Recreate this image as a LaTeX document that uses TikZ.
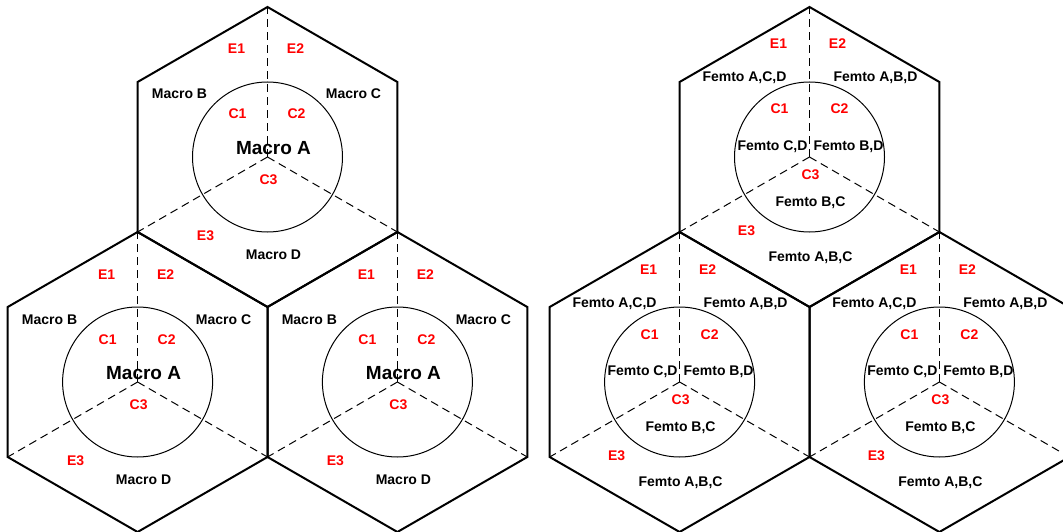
\documentclass[tikz,border=0pt]{standalone}
\usepackage{fontspec}
\setmainfont{Liberation Sans}
\tikzset{
  hexline/.style={line width=2pt, line join=miter},
  cellcircle/.style={line width=1pt},
  sectorline/.style={line width=1pt, dash pattern=on 8pt off 5pt},
  lbl/.style={font=\fontsize{14}{14}\selectfont\bfseries, inner sep=0pt, text height=10pt, text depth=0pt},
  redlbl/.style={lbl, text=red},
  blacklbl/.style={lbl, text=black},
  biglbl/.style={font=\fontsize{19}{19}\selectfont\bfseries, inner sep=0pt, text height=13.6pt, text depth=0pt},
  cellbase/.pic={
    \draw[hexline] (0,-150) -- (129.9,-75) -- (129.9,75) -- (0,150) -- (-129.9,75) -- (-129.9,-75) -- cycle;
    \draw[cellcircle] (0,0) circle[radius=75pt];
    \draw[sectorline] (0,0) -- (0,-150);
    \draw[sectorline] (0,0) -- (-129.9,75);
    \draw[sectorline] (0,0) -- (129.9,75);
  },
  macrocell/.pic={
    \pic {cellbase};
    \node[redlbl] (-e1) at (-31,-108) {E1};
    \node[redlbl] (-e2) at (28,-108) {E2};
    \node[blacklbl] (-mb) at (-88,-63) {Macro B};
    \node[blacklbl] (-mc) at (86,-63) {Macro C};
    \node[redlbl] (-c1) at (-30,-43) {C1};
    \node[redlbl] (-c2) at (29,-43) {C2};
    \node[biglbl] (-ma) at (6,-9) {Macro A};
    \node[redlbl] (-c3) at (1,22) {C3};
    \node[redlbl] (-e3) at (-62,78) {E3};
    \node[blacklbl] (-md) at (6,97) {Macro D};
  },
  femtocell/.pic={
    \pic {cellbase};
    \node[redlbl] (-e1) at (-31,-113) {E1};
    \node[redlbl] (-e2) at (28,-113) {E2};
    \node[blacklbl] (-facd) at (-65,-80) {Femto A,C,D};
    \node[blacklbl] (-fabd) at (66,-80) {Femto A,B,D};
    \node[redlbl] (-c1) at (-30,-48) {C1};
    \node[redlbl] (-c2) at (30,-48) {C2};
    \node[blacklbl] (-fcd) at (-37,-12) {Femto C,D};
    \node[blacklbl] (-fbd) at (39,-12) {Femto B,D};
    \node[redlbl] (-c3) at (1,17) {C3};
    \node[blacklbl] (-fbc) at (1,44) {Femto B,C};
    \node[redlbl] (-e3) at (-63,73) {E3};
    \node[blacklbl] (-fabc) at (1,99) {Femto A,B,C};
  }
}
\begin{document}
\begin{tikzpicture}[x=1pt,y=-1pt]
  \useasboundingbox (0,0) rectangle (1063,532);
  \clip (0,0) rectangle (1063,532);
  % left group: macro cells
  \pic (mt) at (267.5,157) {macrocell};
  \pic (ml) at (137.6,382) {macrocell};
  \pic (mr) at (397.4,382) {macrocell};
  % right group: femto cells
  \pic (ft) at (809.5,157) {femtocell};
  \pic (fl) at (679.6,382) {femtocell};
  \pic (fr) at (939.4,382) {femtocell};
\end{tikzpicture}
\end{document}
